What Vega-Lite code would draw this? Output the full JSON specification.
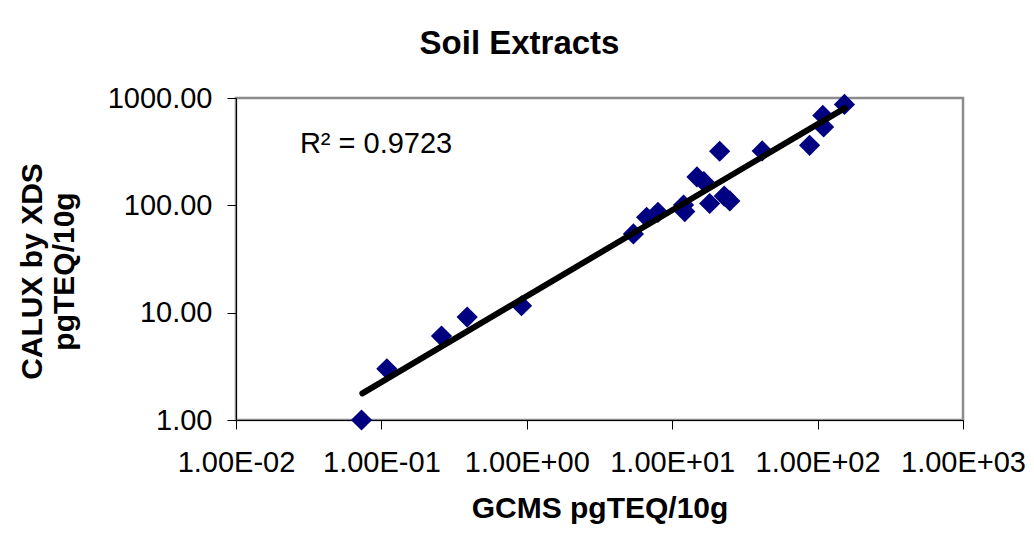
{
  "$schema": "https://vega.github.io/schema/vega-lite/v6.json",
  "autosize": {"type": "none"},
  "padding": {"left": 236, "top": 98, "right": 71, "bottom": 117},
  "width": 727,
  "height": 322,
  "background": "white",
  "title": {
    "text": "Soil Extracts",
    "font": "Liberation Sans",
    "fontSize": 33,
    "fontWeight": "bold",
    "color": "black",
    "anchor": "middle",
    "frame": "group",
    "dx": -80,
    "offset": 23
  },
  "datasets": {
    "points": [
      {"gcms": 0.073, "calux": 1.0},
      {"gcms": 0.109, "calux": 3.0},
      {"gcms": 0.259, "calux": 6.05},
      {"gcms": 0.389, "calux": 9.1},
      {"gcms": 0.92, "calux": 11.6},
      {"gcms": 5.41, "calux": 54.2},
      {"gcms": 6.67, "calux": 77.4},
      {"gcms": 7.98, "calux": 86.1},
      {"gcms": 11.97, "calux": 100.7},
      {"gcms": 12.2, "calux": 87.4},
      {"gcms": 14.8, "calux": 184},
      {"gcms": 16.5, "calux": 166},
      {"gcms": 18.1, "calux": 104},
      {"gcms": 21.2, "calux": 319},
      {"gcms": 22.8, "calux": 122},
      {"gcms": 24.9, "calux": 110},
      {"gcms": 41.6, "calux": 321},
      {"gcms": 88.1, "calux": 362},
      {"gcms": 110, "calux": 537},
      {"gcms": 108.6, "calux": 688},
      {"gcms": 153, "calux": 871}
    ],
    "trend": [
      {"gcms": 0.074, "calux": 1.77},
      {"gcms": 154, "calux": 806}
    ],
    "note": [
      {"label": "R² = 0.9723"}
    ]
  },
  "layer": [
    {
      "data": {"name": "points"},
      "mark": {"type": "point", "shape": "diamond", "filled": true, "color": "#000080", "opacity": 1, "size": 450},
      "encoding": {
        "x": {
          "field": "gcms", "type": "quantitative",
          "scale": {"type": "log", "domain": [0.01, 1000], "nice": false},
          "axis": {
            "title": "GCMS pgTEQ/10g",
            "values": [0.01, 0.1, 1, 10, 100, 1000],
            "labelExpr": "'1.00E' + (datum.value < 1 ? '-' : '+') + (abs(round(log(datum.value)/LN10)) < 10 ? '0' : '') + abs(round(log(datum.value)/LN10))",
            "labelPadding": 19,
            "titleBaseline": "alphabetic",
            "titleY": 97
          }
        },
        "y": {
          "field": "calux", "type": "quantitative",
          "scale": {"type": "log", "domain": [1, 1000], "nice": false},
          "axis": {
            "title": ["CALUX by XDS", "pgTEQ/10g"],
            "values": [1, 10, 100, 1000],
            "format": ".2f",
            "labelPadding": 15,
            "titleBaseline": "alphabetic",
            "titleAngle": -90,
            "titleAlign": "center",
            "titleLineHeight": 32,
            "titleX": -195,
            "titleY": 173
          }
        }
      }
    },
    {
      "data": {"name": "trend"},
      "mark": {"type": "line", "color": "black", "strokeWidth": 6, "strokeCap": "round"},
      "encoding": {
        "x": {"field": "gcms", "type": "quantitative"},
        "y": {"field": "calux", "type": "quantitative"}
      }
    },
    {
      "data": {"name": "note"},
      "mark": {"type": "text", "align": "left", "baseline": "middle", "font": "Liberation Sans", "fontSize": 29, "color": "black"},
      "encoding": {
        "x": {"datum": 0.0275, "type": "quantitative"},
        "y": {"datum": 373, "type": "quantitative"},
        "text": {"field": "label"}
      }
    }
  ],
  "config": {
    "view": {"stroke": "#8c8c8c", "strokeWidth": 2.5},
    "axis": {
      "grid": false,
      "domainColor": "black",
      "domainWidth": 1,
      "tickColor": "black",
      "tickWidth": 1,
      "tickSize": 9,
      "labelFont": "Liberation Sans",
      "labelFontSize": 29,
      "labelColor": "black",
      "labelFlush": false,
      "labelOverlap": false,
      "titleFont": "Liberation Sans",
      "titleFontSize": 30,
      "titleFontWeight": "bold",
      "titleColor": "black"
    }
  }
}
